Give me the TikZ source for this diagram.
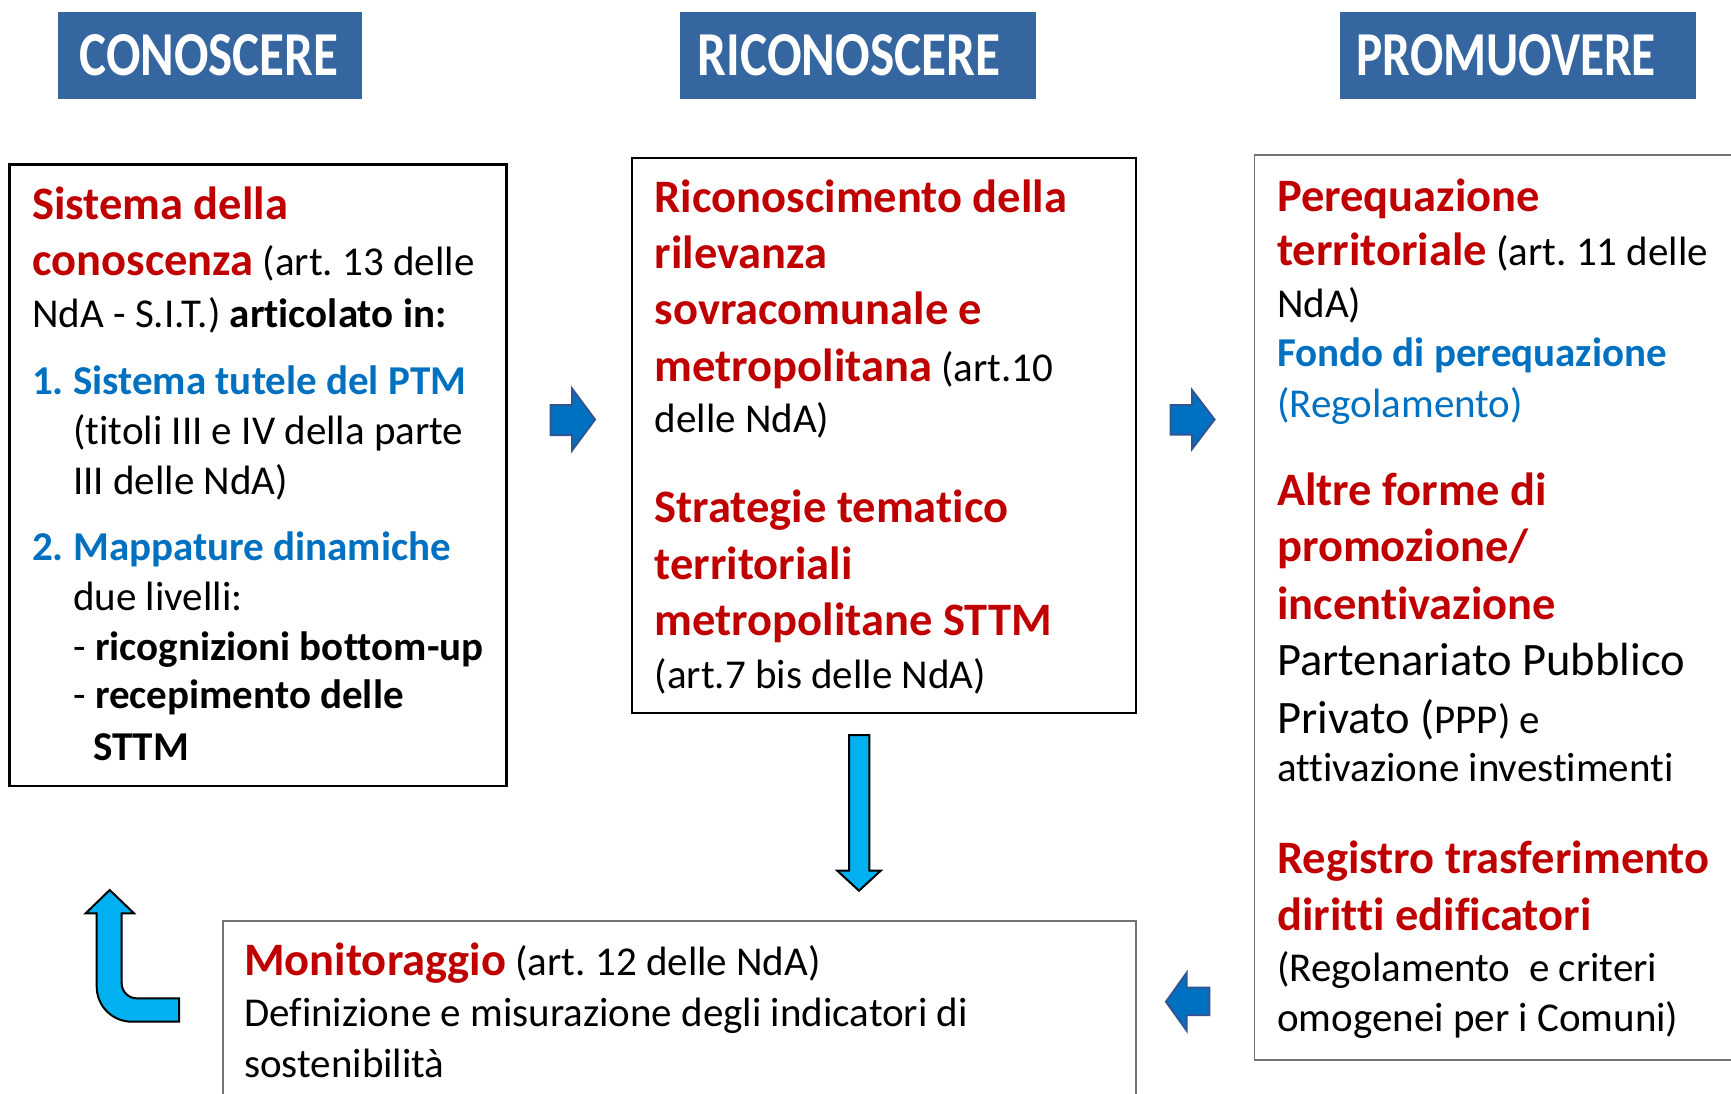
\documentclass[tikz,border=0pt]{standalone}
\usepackage{fontspec}
\setmainfont{Carlito}[Ligatures=NoCommon]
\usepackage{graphicx}
\definecolor{myred}{RGB}{192,0,0}
\definecolor{myblue}{RGB}{0,112,192}
\definecolor{hdrblue}{RGB}{53,102,160}
\definecolor{arrblue}{RGB}{0,112,192}
\definecolor{arredge}{RGB}{47,85,151}
\definecolor{lightarr}{RGB}{0,176,240}
\newcommand{\bodysz}{\fontsize{41}{45}\selectfont}
\newcommand{\hdsz}{\fontsize{46.5}{50}\selectfont}
\newcommand{\redhd}[1]{{\hdsz\bfseries\color{myred}#1}}
\newcommand{\bluehd}[1]{{\bfseries\color{myblue}#1}}
\newcommand{\hdrtxt}[2]{\resizebox{#1}{41pt}{\bfseries #2}}
\frenchspacing
\begin{document}
\begin{tikzpicture}[x=1pt,y=-1pt,
  boxnode/.style={draw, rectangle, inner sep=0pt},
  hdr/.style={rectangle, fill=hdrblue, inner sep=0pt, minimum height=87pt},
  hdrlab/.style={anchor=base west, inner sep=0pt, text=white},
  ln/.style={anchor=base west, inner sep=0pt, font=\bodysz},
  bluearrow/.style={fill=arrblue, draw=arredge, line width=2pt, line join=miter},
  lightarrow/.style={fill=lightarr, draw=black, line width=2pt, line join=miter}]
\useasboundingbox (0,0) rectangle (1731,1093);
\fill[white] (0,0) rectangle (1731,1093);

% headers
\node[hdr, minimum width=303.7pt] (hC) at (210.2,55.7) {};
\node[hdr, minimum width=355.5pt] (hR) at (857.75,55.7) {};
\node[hdr, minimum width=355.5pt] (hP) at (1517.75,55.7) {};
\node[hdrlab] (tC) at (79.3,75.3) {\hdrtxt{258.7pt}{CONOSCERE}};
\node[hdrlab] (tR) at (697.6,75.3) {\hdrtxt{302.4pt}{RICONOSCERE}};
\node[hdrlab] (tP) at (1356.5,75.3) {\hdrtxt{299.1pt}{PROMUOVERE}};

% boxes
\node[boxnode, line width=2.5pt, minimum width=497.4pt, minimum height=621.4pt] (boxL) at (258,475.3) {};
\node[boxnode, line width=1.5pt, minimum width=504pt, minimum height=555pt] (boxM) at (884,435.5) {};
\node[boxnode, draw=black!55, line width=1.5pt, minimum width=505.5pt, minimum height=905pt] (boxR) at (1507.25,607.5) {};
\node[boxnode, draw=black!55, line width=1.5pt, minimum width=913pt, minimum height=199pt] (boxB) at (679.5,1020.5) {};

% left box text
\node[ln] (L1) at (32,219) {\redhd{Sistema della}};
\node[ln] (L2) at (32,275) {\redhd{conoscenza} (art. 13 delle};
\node[ln] (L3) at (32,327) {NdA - S.I.T.) \textbf{articolato in:}};
\node[ln] (L4) at (32,394) {\bluehd{1. Sistema tutele del PTM}};
\node[ln] (L5) at (73,444) {(titoli III e IV della parte};
\node[ln] (L6) at (73,494) {III delle NdA)};
\node[ln] (L7) at (32,560) {\bluehd{2. Mappature dinamiche}};
\node[ln] (L8) at (73,610) {due livelli:};
\node[ln] (L9) at (73,660) {- \textbf{ricognizioni bottom-up}};
\node[ln] (L10) at (73,708) {- \textbf{recepimento delle}};
\node[ln] (L11) at (93,760) {\textbf{STTM}};

% middle box text
\node[ln] (M1) at (654.5,212) {\redhd{Riconoscimento della}};
\node[ln] (M2) at (654.5,268) {\redhd{rilevanza}};
\node[ln] (M3) at (654.5,324.6) {\redhd{sovracomunale e}};
\node[ln] (M4) at (654.5,381) {\redhd{metropolitana} (art.10};
\node[ln] (M5) at (654.5,432.7) {delle NdA)};
\node[ln] (M6) at (654.5,522.5) {\redhd{Strategie tematico}};
\node[ln] (M7) at (654.5,579) {\redhd{territoriali}};
\node[ln] (M8) at (654.5,635) {\redhd{metropolitane STTM}};
\node[ln] (M9) at (654.5,688) {(art.7 bis delle NdA)};

% right box text
\node[ln] (R1) at (1277,211) {\redhd{Perequazione}};
\node[ln] (R2) at (1277,265.5) {\redhd{territoriale} (art. 11 delle};
\node[ln] (R3) at (1277,317) {NdA)};
\node[ln] (R4) at (1277,366) {\bluehd{Fondo di perequazione}};
\node[ln] (R5) at (1277,417.7) {\color{myblue}(Regolamento)};
\node[ln] (R6) at (1277,505.7) {\redhd{Altre forme di}};
\node[ln] (R7) at (1277,561.5) {\redhd{promozione/}};
\node[ln] (R8) at (1277,619) {\redhd{incentivazione}};
\node[ln] (R9) at (1277,675.5) {\hdsz Partenariato Pubblico};
\node[ln] (R10) at (1277,733) {{\hdsz Privato (}PPP) e};
\node[ln] (R11) at (1277,781.6) {attivazione investimenti};
\node[ln] (R12) at (1277,873.8) {\redhd{Registro trasferimento}};
\node[ln] (R13) at (1277,930) {\redhd{diritti edificatori}};
\node[ln] (R14) at (1277,981.7) {(Regolamento\ \ e criteri};
\node[ln] (R15) at (1277,1031.4) {omogenei per i Comuni)};

% bottom box text
\node[ln] (B1) at (244,975) {\redhd{Monitoraggio} (art. 12 delle NdA)};
\node[ln] (B2) at (244,1026.7) {Definizione e misurazione degli indicatori di};
\node[ln] (B3) at (244,1077) {sostenibilità};

% block arrows
\draw[bluearrow] (550.7,405) -- (572,405) -- (572,388.5) -- (595,419.5) -- (572,450.5) -- (572,435) -- (550.7,435) -- cycle;
\draw[bluearrow] (1170.5,405) -- (1192,405) -- (1192,390) -- (1214.5,419.5) -- (1192,449) -- (1192,434.5) -- (1170.5,434.5) -- cycle;
\draw[bluearrow] (1209.3,987.7) -- (1186.7,987.7) -- (1186.7,972.7) -- (1166,1001.7) -- (1186.7,1030.7) -- (1186.7,1015) -- (1209.3,1015) -- cycle;
\draw[lightarrow] (849,735) -- (869.3,735) -- (869.3,870.7) -- (880.7,870.7) -- (859,890.7) -- (837.3,870.7) -- (849,870.7) -- cycle;
\draw[lightarrow] (109.7,890) -- (134,913.3) -- (121.7,913.3) -- (121.7,983.3)
  .. controls (121.7,991.6) and (128.4,998.3) .. (136.7,998.3) -- (179,998.3) -- (179,1021.7) -- (131.7,1021.7)
  .. controls (112.4,1021.7) and (96.7,1006) .. (96.7,986.7) -- (96.7,913.3) -- (85.7,913.3) -- cycle;
\end{tikzpicture}
\end{document}
